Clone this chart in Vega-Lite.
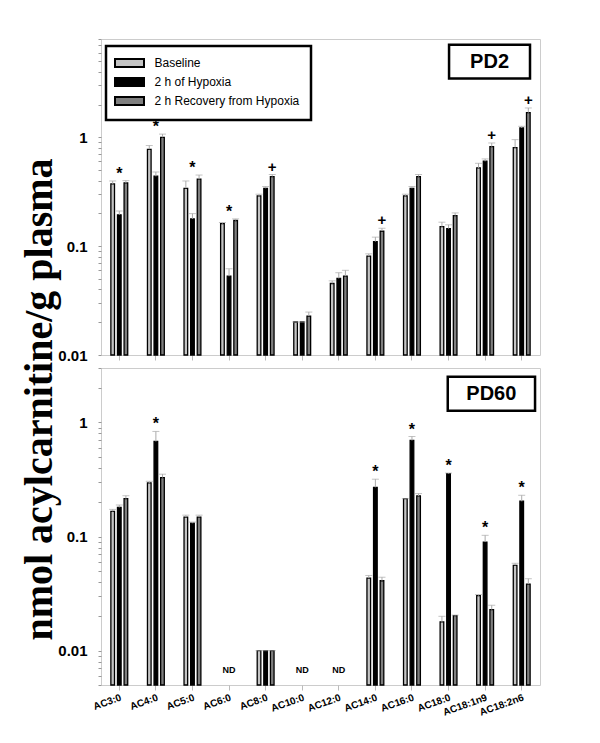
{
  "$schema": "https://vega.github.io/schema/vega-lite/v6.json",
  "background": "white",
  "padding": {"left": 18, "top": 38, "right": 10, "bottom": 5},
  "spacing": 13,
  "bounds": "flush",
  "resolve": {"scale": {"fill": "independent", "y": "independent"}, "legend": {"fill": "independent"}},
  "datasets": {
    "bars": [
      {"panel": "PD2", "ac": "AC3:0", "grp": "Baseline", "v": 0.373, "hi": 0.397, "sig": ""},
      {"panel": "PD2", "ac": "AC3:0", "grp": "2 h of Hypoxia", "v": 0.194, "hi": 0.21, "sig": "*"},
      {"panel": "PD2", "ac": "AC3:0", "grp": "2 h Recovery from Hypoxia", "v": 0.381, "hi": 0.4, "sig": ""},
      {"panel": "PD2", "ac": "AC4:0", "grp": "Baseline", "v": 0.776, "hi": 0.84, "sig": ""},
      {"panel": "PD2", "ac": "AC4:0", "grp": "2 h of Hypoxia", "v": 0.439, "hi": 0.48, "sig": "*"},
      {"panel": "PD2", "ac": "AC4:0", "grp": "2 h Recovery from Hypoxia", "v": 1.0, "hi": 1.07, "sig": ""},
      {"panel": "PD2", "ac": "AC5:0", "grp": "Baseline", "v": 0.34, "hi": 0.397, "sig": ""},
      {"panel": "PD2", "ac": "AC5:0", "grp": "2 h of Hypoxia", "v": 0.178, "hi": 0.199, "sig": "*"},
      {"panel": "PD2", "ac": "AC5:0", "grp": "2 h Recovery from Hypoxia", "v": 0.412, "hi": 0.45, "sig": ""},
      {"panel": "PD2", "ac": "AC6:0", "grp": "Baseline", "v": 0.161, "hi": 0.165, "sig": ""},
      {"panel": "PD2", "ac": "AC6:0", "grp": "2 h of Hypoxia", "v": 0.053, "hi": 0.062, "sig": "*"},
      {"panel": "PD2", "ac": "AC6:0", "grp": "2 h Recovery from Hypoxia", "v": 0.172, "hi": 0.178, "sig": ""},
      {"panel": "PD2", "ac": "AC8:0", "grp": "Baseline", "v": 0.29, "hi": 0.3, "sig": ""},
      {"panel": "PD2", "ac": "AC8:0", "grp": "2 h of Hypoxia", "v": 0.34, "hi": 0.353, "sig": ""},
      {"panel": "PD2", "ac": "AC8:0", "grp": "2 h Recovery from Hypoxia", "v": 0.436, "hi": 0.455, "sig": "+"},
      {"panel": "PD2", "ac": "AC10:0", "grp": "Baseline", "v": 0.0201, "hi": 0.0201, "sig": ""},
      {"panel": "PD2", "ac": "AC10:0", "grp": "2 h of Hypoxia", "v": 0.0201, "hi": 0.0201, "sig": ""},
      {"panel": "PD2", "ac": "AC10:0", "grp": "2 h Recovery from Hypoxia", "v": 0.0228, "hi": 0.0248, "sig": ""},
      {"panel": "PD2", "ac": "AC12:0", "grp": "Baseline", "v": 0.0454, "hi": 0.048, "sig": ""},
      {"panel": "PD2", "ac": "AC12:0", "grp": "2 h of Hypoxia", "v": 0.0505, "hi": 0.057, "sig": ""},
      {"panel": "PD2", "ac": "AC12:0", "grp": "2 h Recovery from Hypoxia", "v": 0.053, "hi": 0.06, "sig": ""},
      {"panel": "PD2", "ac": "AC14:0", "grp": "Baseline", "v": 0.081, "hi": 0.085, "sig": ""},
      {"panel": "PD2", "ac": "AC14:0", "grp": "2 h of Hypoxia", "v": 0.11, "hi": 0.121, "sig": ""},
      {"panel": "PD2", "ac": "AC14:0", "grp": "2 h Recovery from Hypoxia", "v": 0.137, "hi": 0.146, "sig": "+"},
      {"panel": "PD2", "ac": "AC16:0", "grp": "Baseline", "v": 0.29, "hi": 0.3, "sig": ""},
      {"panel": "PD2", "ac": "AC16:0", "grp": "2 h of Hypoxia", "v": 0.34, "hi": 0.353, "sig": ""},
      {"panel": "PD2", "ac": "AC16:0", "grp": "2 h Recovery from Hypoxia", "v": 0.436, "hi": 0.455, "sig": ""},
      {"panel": "PD2", "ac": "AC18:0", "grp": "Baseline", "v": 0.151, "hi": 0.166, "sig": ""},
      {"panel": "PD2", "ac": "AC18:0", "grp": "2 h of Hypoxia", "v": 0.145, "hi": 0.157, "sig": ""},
      {"panel": "PD2", "ac": "AC18:0", "grp": "2 h Recovery from Hypoxia", "v": 0.191, "hi": 0.202, "sig": ""},
      {"panel": "PD2", "ac": "AC18:1n9", "grp": "Baseline", "v": 0.523, "hi": 0.577, "sig": ""},
      {"panel": "PD2", "ac": "AC18:1n9", "grp": "2 h of Hypoxia", "v": 0.603, "hi": 0.633, "sig": ""},
      {"panel": "PD2", "ac": "AC18:1n9", "grp": "2 h Recovery from Hypoxia", "v": 0.821, "hi": 0.887, "sig": "+"},
      {"panel": "PD2", "ac": "AC18:2n6", "grp": "Baseline", "v": 0.804, "hi": 0.952, "sig": ""},
      {"panel": "PD2", "ac": "AC18:2n6", "grp": "2 h of Hypoxia", "v": 1.218, "hi": 1.262, "sig": ""},
      {"panel": "PD2", "ac": "AC18:2n6", "grp": "2 h Recovery from Hypoxia", "v": 1.684, "hi": 1.86, "sig": "+"},
      {"panel": "PD60", "ac": "AC3:0", "grp": "Baseline", "v": 0.166, "hi": 0.173, "sig": ""},
      {"panel": "PD60", "ac": "AC3:0", "grp": "2 h of Hypoxia", "v": 0.18, "hi": 0.189, "sig": ""},
      {"panel": "PD60", "ac": "AC3:0", "grp": "2 h Recovery from Hypoxia", "v": 0.215, "hi": 0.228, "sig": ""},
      {"panel": "PD60", "ac": "AC4:0", "grp": "Baseline", "v": 0.295, "hi": 0.305, "sig": ""},
      {"panel": "PD60", "ac": "AC4:0", "grp": "2 h of Hypoxia", "v": 0.681, "hi": 0.834, "sig": "*"},
      {"panel": "PD60", "ac": "AC4:0", "grp": "2 h Recovery from Hypoxia", "v": 0.329, "hi": 0.352, "sig": ""},
      {"panel": "PD60", "ac": "AC5:0", "grp": "Baseline", "v": 0.148, "hi": 0.154, "sig": ""},
      {"panel": "PD60", "ac": "AC5:0", "grp": "2 h of Hypoxia", "v": 0.131, "hi": 0.134, "sig": ""},
      {"panel": "PD60", "ac": "AC5:0", "grp": "2 h Recovery from Hypoxia", "v": 0.148, "hi": 0.154, "sig": ""},
      {"panel": "PD60", "ac": "AC6:0", "grp": "2 h of Hypoxia", "v": null, "hi": null, "sig": "ND"},
      {"panel": "PD60", "ac": "AC8:0", "grp": "Baseline", "v": 0.01, "hi": 0.01, "sig": ""},
      {"panel": "PD60", "ac": "AC8:0", "grp": "2 h of Hypoxia", "v": 0.01, "hi": 0.01, "sig": ""},
      {"panel": "PD60", "ac": "AC8:0", "grp": "2 h Recovery from Hypoxia", "v": 0.01, "hi": 0.01, "sig": ""},
      {"panel": "PD60", "ac": "AC10:0", "grp": "2 h of Hypoxia", "v": null, "hi": null, "sig": "ND"},
      {"panel": "PD60", "ac": "AC12:0", "grp": "2 h of Hypoxia", "v": null, "hi": null, "sig": "ND"},
      {"panel": "PD60", "ac": "AC14:0", "grp": "Baseline", "v": 0.0432, "hi": 0.0456, "sig": ""},
      {"panel": "PD60", "ac": "AC14:0", "grp": "2 h of Hypoxia", "v": 0.27, "hi": 0.318, "sig": "*"},
      {"panel": "PD60", "ac": "AC14:0", "grp": "2 h Recovery from Hypoxia", "v": 0.041, "hi": 0.044, "sig": ""},
      {"panel": "PD60", "ac": "AC16:0", "grp": "Baseline", "v": 0.215, "hi": 0.215, "sig": ""},
      {"panel": "PD60", "ac": "AC16:0", "grp": "2 h of Hypoxia", "v": 0.695, "hi": 0.753, "sig": "*"},
      {"panel": "PD60", "ac": "AC16:0", "grp": "2 h Recovery from Hypoxia", "v": 0.227, "hi": 0.238, "sig": ""},
      {"panel": "PD60", "ac": "AC18:0", "grp": "Baseline", "v": 0.0179, "hi": 0.02, "sig": ""},
      {"panel": "PD60", "ac": "AC18:0", "grp": "2 h of Hypoxia", "v": 0.356, "hi": 0.36, "sig": "*"},
      {"panel": "PD60", "ac": "AC18:0", "grp": "2 h Recovery from Hypoxia", "v": 0.0203, "hi": 0.0205, "sig": ""},
      {"panel": "PD60", "ac": "AC18:1n9", "grp": "Baseline", "v": 0.0304, "hi": 0.031, "sig": ""},
      {"panel": "PD60", "ac": "AC18:1n9", "grp": "2 h of Hypoxia", "v": 0.0895, "hi": 0.1025, "sig": "*"},
      {"panel": "PD60", "ac": "AC18:1n9", "grp": "2 h Recovery from Hypoxia", "v": 0.0229, "hi": 0.025, "sig": ""},
      {"panel": "PD60", "ac": "AC18:2n6", "grp": "Baseline", "v": 0.0558, "hi": 0.0583, "sig": ""},
      {"panel": "PD60", "ac": "AC18:2n6", "grp": "2 h of Hypoxia", "v": 0.204, "hi": 0.23, "sig": "*"},
      {"panel": "PD60", "ac": "AC18:2n6", "grp": "2 h Recovery from Hypoxia", "v": 0.0383, "hi": 0.0427, "sig": ""}
    ]
  },
  "vconcat": [
    {
      "width": 439,
      "height": 316,
      "data": {"name": "bars"},
      "transform": [
        {"filter": "datum.panel == 'PD2'"},
        {"joinaggregate": [{"op": "max", "field": "hi", "as": "top"}], "groupby": ["ac"]}
      ],
      "layer": [
        {
          "transform": [{"filter": "datum.v != null"}],
          "mark": {"type": "bar", "stroke": "black", "strokeWidth": 1.3},
          "encoding": {
            "x": {
              "field": "ac", "type": "nominal", "title": null,
              "scale": {"domain": ["AC3:0", "AC4:0", "AC5:0", "AC6:0", "AC8:0", "AC10:0", "AC12:0", "AC14:0", "AC16:0", "AC18:0", "AC18:1n9", "AC18:2n6"], "paddingInner": 0.46, "paddingOuter": 0.23},
              "axis": {"labels": false, "ticks": true, "tickSize": 5, "tickColor": "#bbbbbb", "domain": false}
            },
            "xOffset": {"field": "grp", "type": "nominal", "scale": {"domain": ["Baseline", "2 h of Hypoxia", "2 h Recovery from Hypoxia"], "paddingInner": 0.45, "paddingOuter": 0.22}},
            "y": {
              "field": "v", "type": "quantitative",
              "scale": {"type": "log", "domain": [0.01, 8], "nice": false},
              "axis": {
                "title": "nmol acylcarnitine/g plasma",
                "titleX": -50, "titleY": 360, "titleAngle": -90, "titleAlign": "center", "titleBaseline": "alphabetic",
                "titleFont": "Liberation Serif", "titleFontSize": 40, "titleFontWeight": "bold", "titleColor": "black",
                "values": [0.01, 0.02, 0.03, 0.04, 0.05, 0.06, 0.07, 0.08, 0.09, 0.1, 0.2, 0.3, 0.4, 0.5, 0.6, 0.7, 0.8, 0.9, 1, 2, 3, 4, 5, 6, 7, 8],
                "labelExpr": "datum.value == 1 ? '1' : datum.value == 0.1 ? '0.1' : datum.value == 0.01 ? '0.01' : ''"
              }
            },
            "y2": {"datum": 0.01},
            "fill": {
              "field": "grp", "type": "nominal",
              "scale": {"domain": ["Baseline", "2 h of Hypoxia", "2 h Recovery from Hypoxia"], "range": ["#c4c4c4", "#000000", "#7f7f7f"]},
              "legend": {
                "title": null, "orient": "none", "legendX": 5, "legendY": 7,
                "symbolType": "M-2.9,-0.8H2.9V0.8H-2.9Z", "symbolSize": 100,
                "symbolOffset": 6.5,
                "symbolStrokeColor": "black", "symbolStrokeWidth": 2,
                "labelFont": "Liberation Sans", "labelFontSize": 12, "labelColor": "black",
                "labelOffset": 19,
                "rowPadding": 3, "padding": 11,
                "strokeColor": "black", "fillColor": "white"
              }
            }
          }
        },
        {
          "transform": [{"filter": "datum.v != null"}],
          "mark": {"type": "rule", "color": "#aaaaaa", "strokeWidth": 1},
          "encoding": {
            "x": {"field": "ac", "type": "nominal"},
            "xOffset": {"field": "grp", "type": "nominal"},
            "y": {"field": "v", "type": "quantitative"},
            "y2": {"field": "hi"}
          }
        },
        {
          "transform": [{"filter": "datum.v != null"}],
          "mark": {"type": "tick", "orient": "horizontal", "color": "#aaaaaa", "size": 7, "thickness": 1},
          "encoding": {
            "x": {"field": "ac", "type": "nominal"},
            "xOffset": {"field": "grp", "type": "nominal"},
            "y": {"field": "hi", "type": "quantitative"}
          }
        },
        {
          "transform": [{"filter": "datum.sig == '*'"}],
          "mark": {"type": "text", "font": "Liberation Sans", "fontWeight": "bold", "fontSize": 16, "baseline": "alphabetic", "dy": -2, "color": "black"},
          "encoding": {
            "x": {"field": "ac", "type": "nominal"},
            "xOffset": {"field": "grp", "type": "nominal"},
            "y": {"field": "top", "type": "quantitative"},
            "text": {"field": "sig"}
          }
        },
        {
          "transform": [{"filter": "datum.sig == '+'"}],
          "mark": {"type": "text", "font": "Liberation Sans", "fontWeight": "bold", "fontSize": 15, "baseline": "alphabetic", "dy": -3, "color": "black"},
          "encoding": {
            "x": {"field": "ac", "type": "nominal"},
            "xOffset": {"field": "grp", "type": "nominal"},
            "y": {"field": "top", "type": "quantitative"},
            "text": {"field": "sig"}
          }
        },
        {
          "data": {"values": [{"label": "PD2"}]},
          "mark": {"type": "rect", "fill": "white", "stroke": "black", "strokeWidth": 2.5},
          "encoding": {
            "x": {"datum": "AC18:0", "bandPosition": 0.526},
            "x2": {"datum": "AC18:2n6", "bandPosition": 0.92},
            "y": {"datum": 7.08},
            "y2": {"datum": 3.46}
          }
        },
        {
          "data": {"values": [{"label": "PD2"}]},
          "mark": {"type": "text", "font": "Liberation Sans", "fontWeight": "bold", "fontSize": 20, "baseline": "middle", "align": "center", "color": "black"},
          "encoding": {
            "x": {"datum": "AC18:1n9", "bandPosition": 0.724},
            "y": {"datum": 4.95},
            "text": {"field": "label"}
          }
        }
      ]
    },
    {
      "width": 439,
      "height": 317,
      "data": {"name": "bars"},
      "transform": [
        {"filter": "datum.panel == 'PD60'"},
        {"joinaggregate": [{"op": "max", "field": "hi", "as": "top"}], "groupby": ["ac"]}
      ],
      "layer": [
        {
          "transform": [{"filter": "datum.v != null"}],
          "mark": {"type": "bar", "stroke": "black", "strokeWidth": 1.3},
          "encoding": {
            "x": {
              "field": "ac", "type": "nominal", "title": null,
              "scale": {"domain": ["AC3:0", "AC4:0", "AC5:0", "AC6:0", "AC8:0", "AC10:0", "AC12:0", "AC14:0", "AC16:0", "AC18:0", "AC18:1n9", "AC18:2n6"], "paddingInner": 0.46, "paddingOuter": 0.23},
              "axis": {"labels": true, "labelAngle": -20, "labelAlign": "right", "labelBaseline": "top", "labelFont": "Liberation Sans", "labelFontWeight": "bold", "labelFontSize": 10, "labelColor": "black", "labelPadding": 2, "ticks": true, "tickSize": 5, "tickColor": "#bbbbbb", "domain": false}
            },
            "xOffset": {"field": "grp", "type": "nominal", "scale": {"domain": ["Baseline", "2 h of Hypoxia", "2 h Recovery from Hypoxia"], "paddingInner": 0.45, "paddingOuter": 0.22}},
            "y": {
              "field": "v", "type": "quantitative", "title": null,
              "scale": {"type": "log", "domain": [0.005, 3], "nice": false},
              "axis": {
                "values": [0.005, 0.006, 0.007, 0.008, 0.009, 0.01, 0.02, 0.03, 0.04, 0.05, 0.06, 0.07, 0.08, 0.09, 0.1, 0.2, 0.3, 0.4, 0.5, 0.6, 0.7, 0.8, 0.9, 1, 2, 3],
                "labelExpr": "datum.value == 1 ? '1' : datum.value == 0.1 ? '0.1' : datum.value == 0.01 ? '0.01' : ''"
              }
            },
            "y2": {"datum": 0.005},
            "fill": {
              "field": "grp", "type": "nominal",
              "scale": {"domain": ["Baseline", "2 h of Hypoxia", "2 h Recovery from Hypoxia"], "range": ["#c4c4c4", "#000000", "#7f7f7f"]},
              "legend": null
            }
          }
        },
        {
          "transform": [{"filter": "datum.v != null"}],
          "mark": {"type": "rule", "color": "#aaaaaa", "strokeWidth": 1},
          "encoding": {
            "x": {"field": "ac", "type": "nominal"},
            "xOffset": {"field": "grp", "type": "nominal"},
            "y": {"field": "v", "type": "quantitative"},
            "y2": {"field": "hi"}
          }
        },
        {
          "transform": [{"filter": "datum.v != null"}],
          "mark": {"type": "tick", "orient": "horizontal", "color": "#aaaaaa", "size": 7, "thickness": 1},
          "encoding": {
            "x": {"field": "ac", "type": "nominal"},
            "xOffset": {"field": "grp", "type": "nominal"},
            "y": {"field": "hi", "type": "quantitative"}
          }
        },
        {
          "transform": [{"filter": "datum.sig == '*'"}],
          "mark": {"type": "text", "font": "Liberation Sans", "fontWeight": "bold", "fontSize": 16, "baseline": "alphabetic", "dy": -2, "color": "black"},
          "encoding": {
            "x": {"field": "ac", "type": "nominal"},
            "xOffset": {"field": "grp", "type": "nominal"},
            "y": {"field": "top", "type": "quantitative"},
            "text": {"field": "sig"}
          }
        },
        {
          "transform": [{"filter": "datum.sig == 'ND'"}],
          "mark": {"type": "text", "font": "Liberation Sans", "fontWeight": "bold", "fontSize": 9, "baseline": "middle", "color": "black"},
          "encoding": {
            "x": {"field": "ac", "type": "nominal"},
            "y": {"datum": 0.0067},
            "text": {"field": "sig"}
          }
        },
        {
          "data": {"values": [{"label": "PD60"}]},
          "mark": {"type": "rect", "fill": "white", "stroke": "black", "strokeWidth": 2.5},
          "encoding": {
            "x": {"datum": "AC18:0", "bandPosition": 0.46},
            "x2": {"datum": "AC18:2n6", "bandPosition": 1.175},
            "y": {"datum": 2.51},
            "y2": {"datum": 1.264}
          }
        },
        {
          "data": {"values": [{"label": "PD60"}]},
          "mark": {"type": "text", "font": "Liberation Sans", "fontWeight": "bold", "fontSize": 20, "baseline": "middle", "align": "center", "color": "black"},
          "encoding": {
            "x": {"datum": "AC18:1n9", "bandPosition": 0.815},
            "y": {"datum": 1.78},
            "text": {"field": "label"}
          }
        }
      ]
    }
  ],
  "config": {
    "view": {"stroke": "#cccccc", "strokeWidth": 1},
    "axis": {"grid": false},
    "axisY": {"domain": false, "tickSize": 3, "tickColor": "#999999", "labelFont": "Liberation Sans", "labelFontWeight": "bold", "labelFontSize": 15, "labelColor": "black", "labelPadding": 11},
    "legend": {"strokeWidth": 2.5}
  }
}
